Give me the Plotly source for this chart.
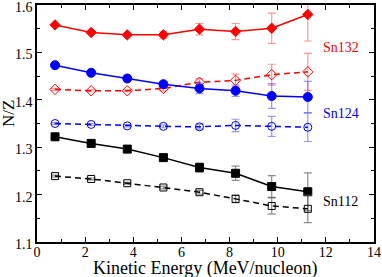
import plotly.graph_objects as go

energy = [0.75, 2.25, 3.75, 5.25, 6.75, 8.25, 9.75, 11.25]

sn132_solid = [1.558, 1.542, 1.537, 1.537, 1.549, 1.544, 1.551, 1.580]
sn132_solid_err = [0.002, 0.002, 0.003, 0.007, 0.012, 0.017, 0.032, 0.056]
sn132_dash = [1.422, 1.419, 1.419, 1.424, 1.437, 1.441, 1.453, 1.459]
sn132_dash_err = [0.002, 0.002, 0.002, 0.005, 0.007, 0.013, 0.022, 0.039]

sn124_solid = [1.473, 1.457, 1.445, 1.433, 1.424, 1.419, 1.408, 1.406]
sn124_solid_err = [0.002, 0.002, 0.003, 0.005, 0.011, 0.012, 0.026, 0.033]
sn124_dash = [1.350, 1.348, 1.345, 1.344, 1.343, 1.346, 1.344, 1.342]
sn124_dash_err = [0.002, 0.002, 0.002, 0.003, 0.005, 0.013, 0.021, 0.030]

sn112_solid = [1.322, 1.308, 1.296, 1.278, 1.257, 1.245, 1.217, 1.206]
sn112_solid_err = [0.002, 0.002, 0.002, 0.004, 0.0095, 0.015, 0.023, 0.040]
sn112_dash = [1.239, 1.233, 1.224, 1.215, 1.205, 1.191, 1.176, 1.170]
sn112_dash_err = [0.002, 0.002, 0.002, 0.003, 0.004, 0.008, 0.017, 0.029]

y_ticks = [1.1, 1.2, 1.3, 1.4, 1.5, 1.6]
y_tick_text = ["1.1", "1.2", "1.3", "1.4", "1.5", "1.6"]
y_minor_ticks = [1.15, 1.25, 1.35, 1.45, 1.55]
x_ticks = [0, 2, 4, 6, 8, 10, 12, 14]
x_minor_ticks = [1, 3, 5, 7, 9, 11, 13]

labels = ["Sn132", "Sn124", "Sn112"]
label_x = [11.85, 11.85, 11.85]
label_y = [1.511, 1.372, 1.186]

series = [
    (sn132_solid, sn132_solid_err, "red", "solid", "diamond", 8, "rgba(255,80,80,0.6)"),
    (sn132_dash, sn132_dash_err, "red", "dash", "diamond-open", 8, "rgba(255,80,80,0.6)"),
    (sn124_solid, sn124_solid_err, "blue", "solid", "circle", 9, "rgba(80,80,255,0.6)"),
    (sn124_dash, sn124_dash_err, "blue", "dash", "circle-open", 8, "rgba(80,80,255,0.6)"),
    (sn112_solid, sn112_solid_err, "black", "solid", "square", 8, "rgba(90,90,90,0.7)"),
    (sn112_dash, sn112_dash_err, "black", "dash", "square-open", 7, "rgba(90,90,90,0.7)"),
]

fig = go.Figure()
for y, err, col, dash, sym, size, ecol in series:
    fig.add_trace(go.Scatter(
        x=energy, y=y, mode="lines+markers",
        line=dict(color=col, width=1.5, dash="6px,4px" if dash == "dash" else "solid"),
        marker=dict(symbol=sym, size=size, color=col, line=dict(color=col, width=1)),
        error_y=dict(type="data", array=err, visible=True, color=ecol, thickness=1.2, width=4),
        showlegend=False,
    ))

label_colors = ["red", "blue", "black"]
for t, lx, ly, c in zip(labels, label_x, label_y, label_colors):
    fig.add_annotation(x=lx, y=ly, text=t, showarrow=False, xanchor="left", yanchor="middle",
                       borderpad=0,
                       font=dict(color=c, size=14, family="Liberation Serif"))

# axis titles as annotations for precise placement
fig.add_annotation(xref="paper", yref="paper", x=0.5, y=0, yshift=-26,
                   xanchor="center", yanchor="middle", showarrow=False, borderpad=0,
                   text="Kinetic Energy (MeV/nucleon)",
                   font=dict(family="Liberation Serif", size=18, color="black"))
fig.add_annotation(xref="paper", yref="paper", x=0, y=0.54, xshift=-29,
                   xanchor="center", yanchor="middle", showarrow=False, borderpad=0,
                   text="N/Z", textangle=-90,
                   font=dict(family="Liberation Serif", size=17, color="black"))

axis_common = dict(
    showgrid=False, zeroline=False, showline=True, linecolor="black", linewidth=1.5,
    mirror="allticks", ticks="inside", ticklen=5, tickwidth=1, tickcolor="black",
    tickfont=dict(family="Liberation Serif", size=14, color="black"),
    automargin=False, ticklabeloverflow="allow",
)

fig.update_xaxes(range=[0, 14], tickmode="array", tickvals=x_ticks,
                 ticklabelstandoff=-4,
                 minor=dict(tickmode="array", tickvals=x_minor_ticks, ticks="inside",
                            ticklen=3, tickcolor="black"),
                 **axis_common)
fig.update_yaxes(range=[1.1, 1.6], tickmode="array", tickvals=y_ticks, ticktext=y_tick_text,
                 ticklabelshift=2,
                 minor=dict(tickmode="array", tickvals=y_minor_ticks, ticks="inside",
                            ticklen=3, tickcolor="black"),
                 **axis_common)

fig.update_layout(
    width=382, height=277,
    margin=dict(l=37, r=8, t=5, b=35),
    plot_bgcolor="white", paper_bgcolor="white",
)

fig.write_html("out.html", config={"displayModeBar": False},
               post_script="document.body.style.margin='0';")
